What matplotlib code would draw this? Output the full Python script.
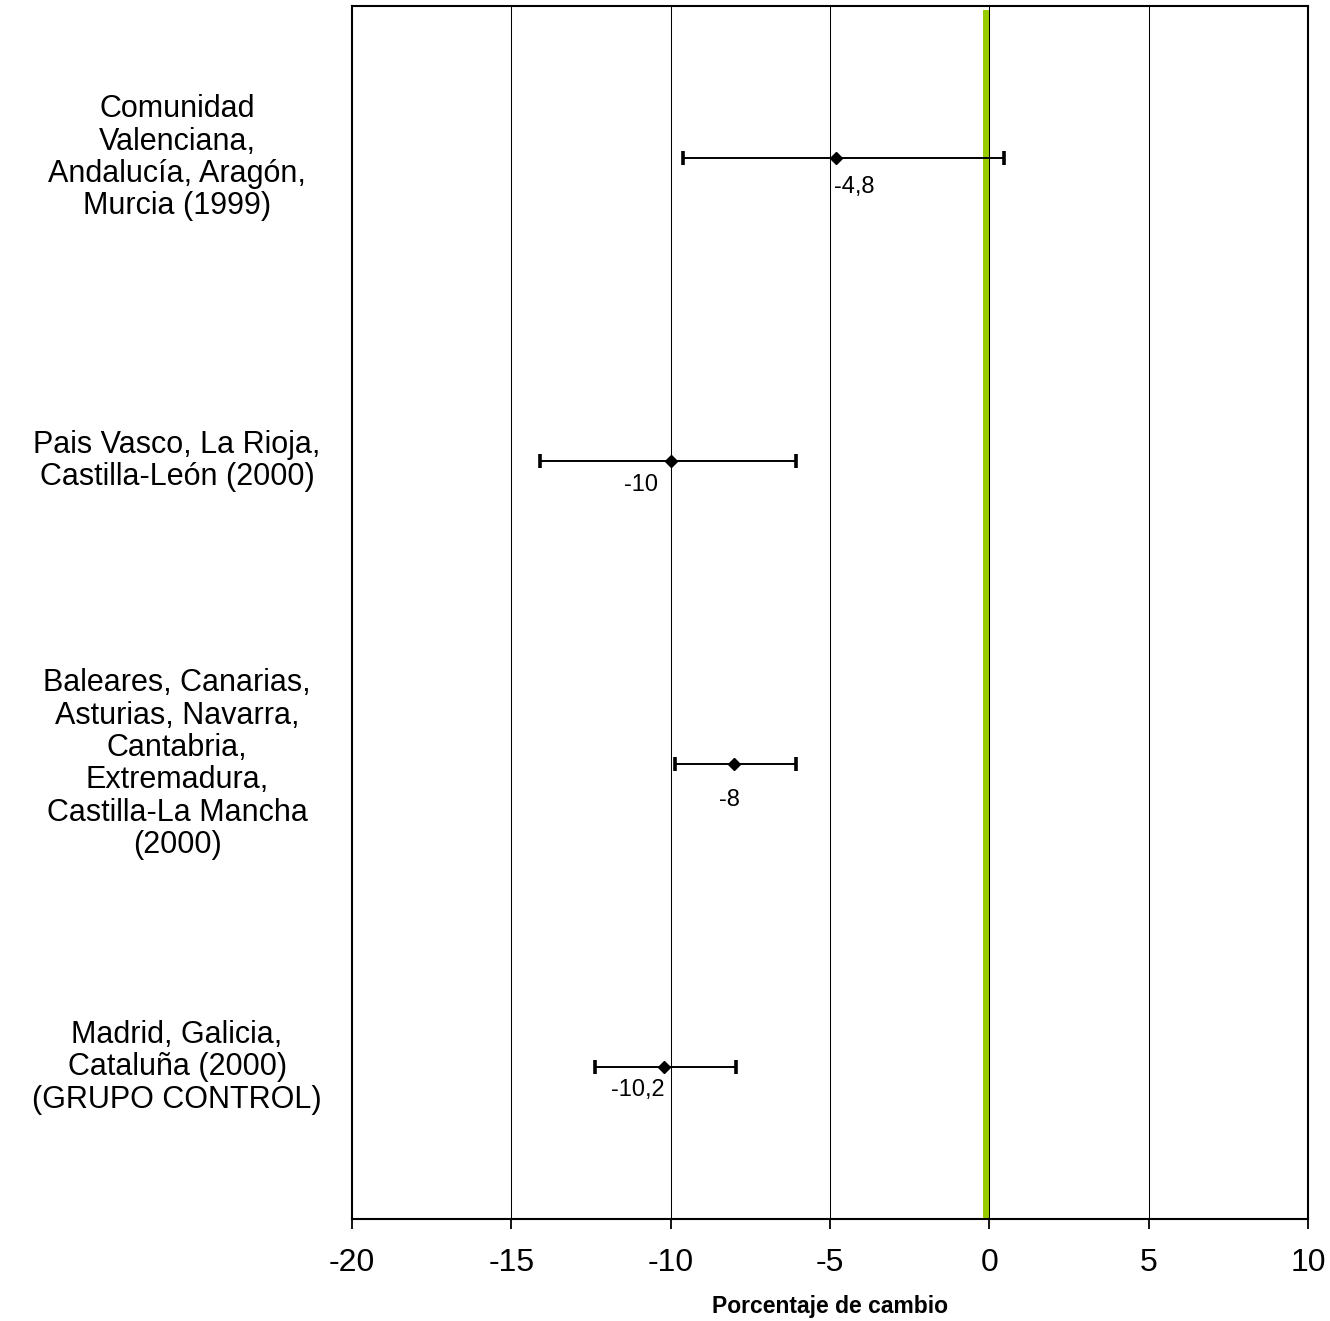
import matplotlib
matplotlib.use("Agg")
import matplotlib.pyplot as plt
from matplotlib.transforms import blended_transform_factory

plt.rcParams['font.family'] = ['Liberation Sans', 'DejaVu Sans']

# Regions grouped by year of intervention
categories = [
    "Comunidad\nValenciana,\nAndalucía, Aragón,\nMurcia (1999)",
    "Pais Vasco, La Rioja,\nCastilla-León (2000)",
    "Baleares, Canarias,\nAsturias, Navarra,\nCantabria,\nExtremadura,\nCastilla-La Mancha\n(2000)",
    "Madrid, Galicia,\nCataluña (2000)\n(GRUPO CONTROL)",
]
change = [-4.8, -10.0, -8.0, -10.2]
ci_low = [-9.63, -14.09, -9.86, -12.37]
ci_high = [0.47, -6.06, -6.06, -7.95]
value_labels = ["-4,8", "-10", "-8", "-10,2"]
x_ticks = [-20, -15, -10, -5, 0, 5, 10]
x_tick_labels = ["-20", "-15", "-10", "-5", "0", "5", "10"]

# label placement (offset in points, horizontal alignment)
label_offsets = [(-2, -13.5), (-9, -9.5), (-3.6, -18), (0, -8.5)]
label_ha = ["left", "right", "center", "right"]

fig = plt.figure(figsize=(13.3, 13.21), dpi=100)
ax = fig.add_axes([0.2647, 0.0772, 0.7188, 0.9182])

ax.set_xlim(-20, 10)
ax.set_ylim(4, 0)

# vertical gridlines
for xv in x_ticks[1:-1]:
    ax.axvline(xv, color='black', lw=0.75, zorder=1)

# reference line at zero change
ax.axvline(-0.1, ymin=0, ymax=0.994, color='#99cc00', lw=4.3, zorder=2)

ypos = [i + 0.5 for i in range(len(categories))]
for y, c, lo, hi, lab, off, ha in zip(ypos, change, ci_low, ci_high,
                                       value_labels, label_offsets, label_ha):
    ax.errorbar([c], [y], xerr=[[c - lo], [hi - c]], fmt='D', color='black',
                markersize=6.5, ecolor='black', elinewidth=1.4,
                capsize=4.7, capthick=2.6, zorder=4)
    ax.annotate(lab, xy=(c, y), xytext=off, textcoords='offset points',
                ha=ha, va='top', fontsize=17, zorder=5)

# category labels on the left
trans = blended_transform_factory(ax.transAxes, ax.transData)
for y, name in zip(ypos, categories):
    ax.text(-0.183, y, name, transform=trans, ha='center', va='center',
            fontsize=22, linespacing=1.1)

ax.set_yticks([])
ax.set_xticks(x_ticks)
ax.set_xticklabels(x_tick_labels, fontsize=23)
ax.tick_params(axis='x', direction='out', length=7, width=1.3, pad=14)

for sp in ax.spines.values():
    sp.set_linewidth(1.5)
    sp.set_color('black')

ax.set_xlabel("Porcentaje de cambio", fontsize=16.5, fontweight='bold',
              labelpad=12)

fig.savefig("out.png", dpi=100, facecolor='white')
